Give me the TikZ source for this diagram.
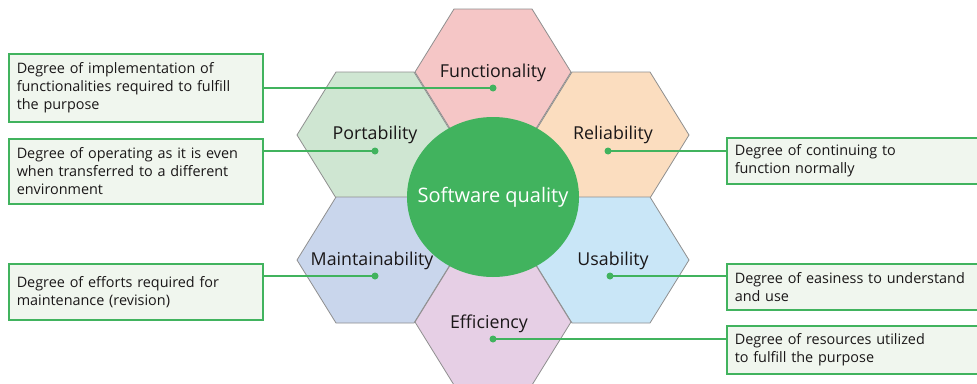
\documentclass[tikz,border=0pt]{standalone}
\usepackage{fontspec}
\setmainfont{Open Sans}
\usetikzlibrary{shapes.geometric}
\definecolor{qgreen}{HTML}{41B35E}
\definecolor{boxfill}{HTML}{F0F6EE}
\definecolor{hexgray}{HTML}{8F8F8F}
\definecolor{inkblack}{HTML}{1A1718}
\definecolor{funcfill}{HTML}{F5C6C6}
\definecolor{portfill}{HTML}{CFE6D2}
\definecolor{relifill}{HTML}{FBDDBF}
\definecolor{maintfill}{HTML}{C9D6EC}
\definecolor{usabfill}{HTML}{C9E6F7}
\definecolor{efffill}{HTML}{E6CFE5}
\tikzset{
  hexcell/.style={draw=hexgray, line width=0.8pt},
  hexlabel/.style={font=\fontsize{17.8}{20}\selectfont, text=inkblack, inner sep=0pt},
  core/.style={ellipse, fill=qgreen, minimum width=172pt, minimum height=160pt,
    inner xsep=-30pt, inner ysep=0pt, text=white, font=\fontsize{20}{22}\selectfont},
  descbox/.style={draw=qgreen, line width=1.5pt, fill=boxfill, anchor=north west,
    align=left, inner xsep=8pt, inner ysep=2pt, text=inkblack,
    font=\fontsize{14.4}{17.8}\selectfont},
  dot/.style={circle, fill=qgreen, inner sep=0pt, minimum size=7pt},
  link/.style={draw=qgreen, line width=1.8pt},
}
% one flat-topped cell, centred at (#1,#2)
\newcommand{\hexat}[3]{%
  \draw[hexcell, fill=#3, shift={(#1,#2)}]
    (-78,0) -- (-39,-63) -- (39,-63) -- (78,0) -- (39,63) -- (-39,63) -- cycle;}

\begin{document}
\begin{tikzpicture}[x=1pt, y=-1pt]
  \fill[white] (0,0) rectangle (977,383);
  \useasboundingbox (0,0) rectangle (977,383);
  % honeycomb
  \hexat{493}{72}{funcfill}
  \hexat{375}{135}{portfill}
  \hexat{611}{135}{relifill}
  \hexat{375}{260}{maintfill}
  \hexat{611}{260}{usabfill}
  \hexat{493}{322}{efffill}
  \node[core] (core) at (493,197) {Software quality};
  % cell labels
  \node[hexlabel] (func)  at (493,73)  {Functionality};
  \node[hexlabel] (port)  at (375,135) {Portability};
  \node[hexlabel] (reli)  at (613,135) {Reliability};
  \node[hexlabel] (maint) at (372,261) {Maintainability};
  \node[hexlabel] (usab)  at (613,261) {Usability};
  \node[hexlabel] (eff)   at (489,324) {Efficiency};
  % descriptions
  \node[descbox, text width=238pt, minimum height=68pt] (funcbox) at (8,53)
    {Degree of implementation of\\functionalities required to fulfill\\the purpose};
  \node[descbox, text width=238pt, minimum height=65pt] (portbox) at (8,138)
    {Degree of operating as it is even\\when transferred to a different\\environment};
  \node[descbox, text width=238pt, minimum height=56pt] (maintbox) at (8,263)
    {Degree of efforts required for\\maintenance (revision)};
  \node[descbox, text width=260pt, minimum height=46pt] (relibox) at (726,137)
    {Degree of continuing to\\function normally};
  \node[descbox, text width=260pt, minimum height=46pt] (usabbox) at (726,263)
    {Degree of easiness to understand\\and use};
  \node[descbox, text width=260pt, minimum height=48pt] (effbox) at (726,325)
    {Degree of resources utilized\\to fulfill the purpose};
  % connectors
  \node[dot] (funcdot)  at (493,88)  {};
  \node[dot] (portdot)  at (375,151) {};
  \node[dot] (relidot)  at (608,151) {};
  \node[dot] (maintdot) at (375,276) {};
  \node[dot] (usabdot)  at (610,276) {};
  \node[dot] (effdot)   at (493,339) {};
  \draw[link] (funcdot.center)  -- (funcdot.center -| funcbox.east);
  \draw[link] (portdot.center)  -- (portdot.center -| portbox.east);
  \draw[link] (maintdot.center) -- (maintdot.center -| maintbox.east);
  \draw[link] (relidot.center)  -- (relidot.center -| relibox.west);
  \draw[link] (usabdot.center)  -- (usabdot.center -| usabbox.west);
  \draw[link] (effdot.center)   -- (effdot.center -| effbox.west);
\end{tikzpicture}
\end{document}
